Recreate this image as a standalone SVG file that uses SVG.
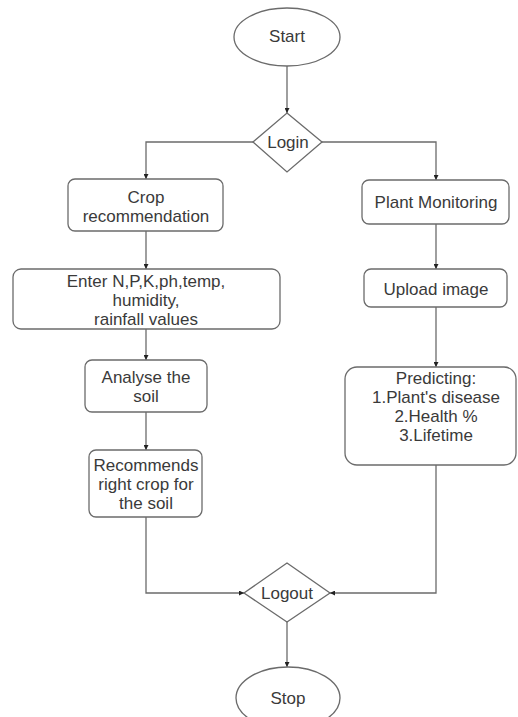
<svg xmlns="http://www.w3.org/2000/svg" width="518" height="717" viewBox="0 0 518 717">
<style>
.s{fill:#fff;stroke:#6b6b6b;stroke-width:1.3}
.c{fill:none;stroke:#6b6b6b;stroke-width:1.3}
text{font-family:"Liberation Sans",Arial,sans-serif;font-size:17px;fill:#3a3a3a;text-anchor:middle}
</style>
<defs>
<marker id="a" viewBox="0 0 10 10" refX="10" refY="5" markerWidth="5" markerHeight="5" orient="auto" markerUnits="userSpaceOnUse">
<path d="M0,0 L10,5 L0,10 Z" fill="#222"/>
</marker>
</defs>
<rect width="518" height="717" fill="#fff"/>
<g id="connectors">
<path class="c" d="M287,66 V113" marker-end="url(#a)"/>
<path class="c" d="M253,142 H146 V179" marker-end="url(#a)"/>
<path class="c" d="M322,142 H436 V180" marker-end="url(#a)"/>
<path class="c" d="M146,231 V269" marker-end="url(#a)"/>
<path class="c" d="M146,329 V360" marker-end="url(#a)"/>
<path class="c" d="M146,412 V450" marker-end="url(#a)"/>
<path class="c" d="M436,224 V269" marker-end="url(#a)"/>
<path class="c" d="M436,307 V367" marker-end="url(#a)"/>
<path class="c" d="M146,517 V593 H244" marker-end="url(#a)"/>
<path class="c" d="M436,465 V593 H330" marker-end="url(#a)"/>
<path class="c" d="M287,622 V667" marker-end="url(#a)"/>
</g>
<g id="start"><ellipse class="s" cx="287" cy="37" rx="53" ry="29"/><text x="287" y="42">Start</text></g>
<g id="login"><path class="s" d="M287,113 L322,142 L287,172 L253,142 Z"/><text x="288" y="148">Login</text></g>
<g id="crop"><rect class="s" x="68" y="179" width="155" height="52" rx="7"/><text x="146" y="203">Crop</text><text x="146" y="222">recommendation</text></g>
<g id="enter"><rect class="s" x="13" y="269" width="267" height="60" rx="8"/><text x="146" y="287">Enter N,P,K,ph,temp,</text><text x="146" y="306">humidity,</text><text x="146" y="325">rainfall values</text></g>
<g id="analyse"><rect class="s" x="85" y="360" width="122" height="52" rx="7"/><text x="146" y="383">Analyse the</text><text x="146" y="402">soil</text></g>
<g id="recommends"><rect class="s" x="89" y="450" width="113" height="67" rx="7"/><text x="146" y="471">Recommends</text><text x="146" y="490">right crop for</text><text x="146" y="509">the soil</text></g>
<g id="plant"><rect class="s" x="362" y="180" width="147" height="44" rx="7"/><text x="436" y="208">Plant Monitoring</text></g>
<g id="upload"><rect class="s" x="364" y="269" width="143" height="38" rx="7"/><text x="436" y="295">Upload image</text></g>
<g id="predicting"><rect class="s" x="345" y="367" width="171" height="98" rx="12"/><text x="436" y="384">Predicting:</text><text x="436" y="403">1.Plant's disease</text><text x="436" y="422">2.Health %</text><text x="436" y="441">3.Lifetime</text></g>
<g id="logout"><path class="s" d="M287,563 L330,593 L287,622 L244,593 Z"/><text x="287" y="599">Logout</text></g>
<g id="stop"><ellipse class="s" cx="288" cy="698" rx="52" ry="31"/><text x="288" y="704">Stop</text></g>
</svg>
